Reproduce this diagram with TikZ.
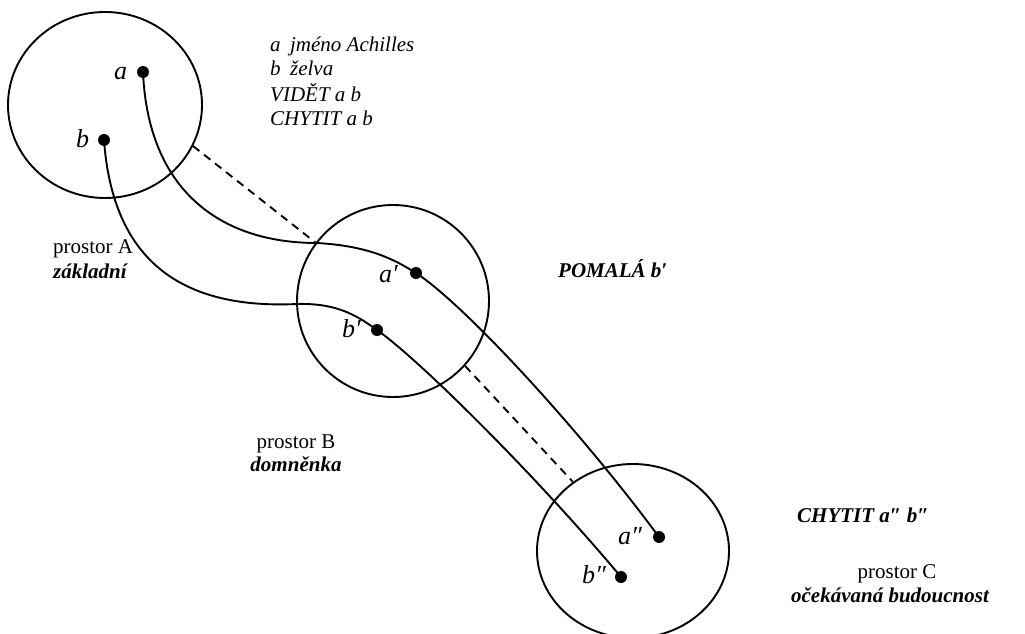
\documentclass[tikz,border=0pt]{standalone}
\usepackage{fontspec}
\setmainfont{Liberation Serif}
\usetikzlibrary{shapes.geometric}
\begin{document}
\begin{tikzpicture}[x=1pt,y=-1pt,
  space/.style={draw, line width=1.9pt, ellipse, inner sep=0pt},
  dot/.style={circle, fill, inner sep=0pt, minimum size=12pt},
  lbl/.style={font=\fontsize{26}{30}\selectfont\itshape, inner sep=0pt, anchor=base west},
  txt/.style={font=\fontsize{21}{24}\selectfont, inner sep=0pt, anchor=base west},
  link/.style={line width=1.9pt},
  hint/.style={line width=1.9pt, dash pattern=on 8pt off 6pt}]
\useasboundingbox (0,0) rectangle (1025,634);
% spaces
\node[space, minimum width=194pt, minimum height=186pt] (A) at (105,105) {};
\node[space, minimum width=192pt, minimum height=192pt] (B) at (393,301) {};
\node[space, minimum width=192pt, minimum height=174pt] (C) at (633,551) {};
% points
\node[dot] (pa) at (143,72) {};
\node[dot] (pb) at (104,140) {};
\node[dot] (pa1) at (416,273) {};
\node[dot] (pb1) at (377,330) {};
\node[dot] (pa2) at (659,537) {};
\node[dot] (pb2) at (621,577) {};
% point labels
\node[lbl] (la) at (114,80) {a};
\node[lbl] (lb) at (76,147) {b};
\node[lbl] (la1) at (379,282) {a′};
\node[lbl] (lb1) at (342,337) {b′};
\node[lbl] (la2) at (618,544) {a″};
\node[lbl] (lb2) at (582,583) {b″};
% connectors
\draw[link] (pa.center) .. controls (148,190) and (220,243) .. (317,243)
  .. controls (370,246) and (395,260) .. (pa1.center);
\draw[link] (pa1.center) .. controls (465,305) and (580,430) .. (pa2.center);
\draw[link] (pb.center) .. controls (112,250) and (170,310) .. (297,304)
  .. controls (335,303) and (355,314) .. (pb1.center);
\draw[link] (pb1.center) .. controls (420,360) and (540,480) .. (pb2.center);
\draw[hint] (A.-25) -- (B.143);
\draw[hint] (B.-42) -- (C.131);
% texts
\node[txt, font=\fontsize{21}{24}\selectfont\itshape] (t1) at (270,52) {a\hspace{0.45em}jméno Achilles};
\node[txt, font=\fontsize{21}{24}\selectfont\itshape] (t2) at (270,76) {b\hspace{0.45em}želva};
\node[txt, font=\fontsize{21}{24}\selectfont\itshape] (t3) at (270,101) {VIDĚT a b};
\node[txt, font=\fontsize{21}{24}\selectfont\itshape] (t4) at (270,125) {CHYTIT a b};
\node[txt] (pA) at (53,253) {prostor A};
\node[txt, font=\fontsize{21}{24}\selectfont\bfseries\itshape] (nA) at (53,278) {základní};
\node[txt, anchor=base] (pB) at (296,448) {prostor B};
\node[txt, anchor=base, font=\fontsize{21}{24}\selectfont\bfseries\itshape] (nB) at (296,471) {domněnka};
\node[txt, font=\fontsize{21}{24}\selectfont\bfseries\itshape] (pom) at (558,277) {POMALÁ b′};
\node[txt, font=\fontsize{21}{24}\selectfont\bfseries\itshape] (chy) at (797,522) {CHYTIT a″ b″};
\node[txt, anchor=base] (pC) at (897,578) {prostor C};
\node[txt, anchor=base, font=\fontsize{21}{24}\selectfont\bfseries\itshape] (nC) at (890,602) {očekávaná budoucnost};
\end{tikzpicture}
\end{document}
